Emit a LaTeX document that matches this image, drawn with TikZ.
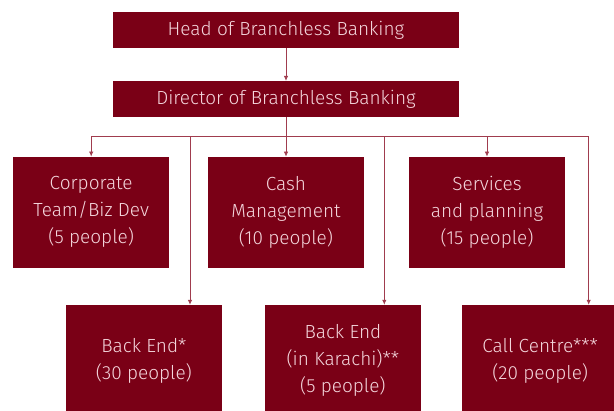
\documentclass[tikz,border=0pt]{standalone}
\usepackage{fontspec}
\setmainfont{Fira Sans}[UprightFont={* Light}]
\usetikzlibrary{arrows.meta}
\definecolor{boxred}{RGB}{122,0,22}
\definecolor{linered}{RGB}{160,60,78}
\definecolor{txt}{RGB}{244,214,220}
\tikzset{
  unit/.style={fill=boxred, text=txt, align=center, inner sep=0pt,
    font=\fontsize{19}{27}\selectfont},
  wide/.style={unit, minimum width=346pt, minimum height=35.7pt},
  team/.style={unit, minimum width=156pt, minimum height=111pt},
  link/.style={draw=linered, line width=0.8pt},
  arr/.style={link, -{Latex[length=5pt,width=4.5pt]}}
}
\begin{document}
\begin{tikzpicture}[x=1pt,y=1pt]
\useasboundingbox (0,0) rectangle (614,-411);
\clip (0,0) rectangle (614,-411);
\node[wide] (head) at (286,-29.9) {Head of Branchless Banking};
\node[wide] (dir) at (286,-98.9) {Director of Branchless Banking};
\node[team] (corp) at (91.2,-212.3) {Corporate\\Team/Biz Dev\\(5 people)};
\node[team] (cash) at (286,-212.3) {Cash\\Management\\(10 people)};
\node[team] (serv) at (487,-212.3) {Services\\and planning\\(15 people)};
\node[team] (back) at (143.9,-360.5) {Back End*\\(30 people)};
\node[team] (kar) at (342.9,-360.5) {Back End\\(in Karachi)**\\(5 people)};
\node[team] (call) at (540.2,-360.5) {Call Centre***\\(20 people)};
\coordinate (bus) at (286,-136.7);
\draw[arr] (head) -- (dir);
\draw[link] (dir) -- (bus);
\draw[arr] (bus) -| (corp);
\draw[arr] (bus) -- (cash);
\draw[arr] (bus) -| (serv);
\draw[arr] (bus) -| ([xshift=46.1pt]back.north);
\draw[arr] (bus) -| ([xshift=41.4pt]kar.north);
\draw[arr] (bus) -| ([xshift=48.5pt]call.north);
\end{tikzpicture}
\end{document}
